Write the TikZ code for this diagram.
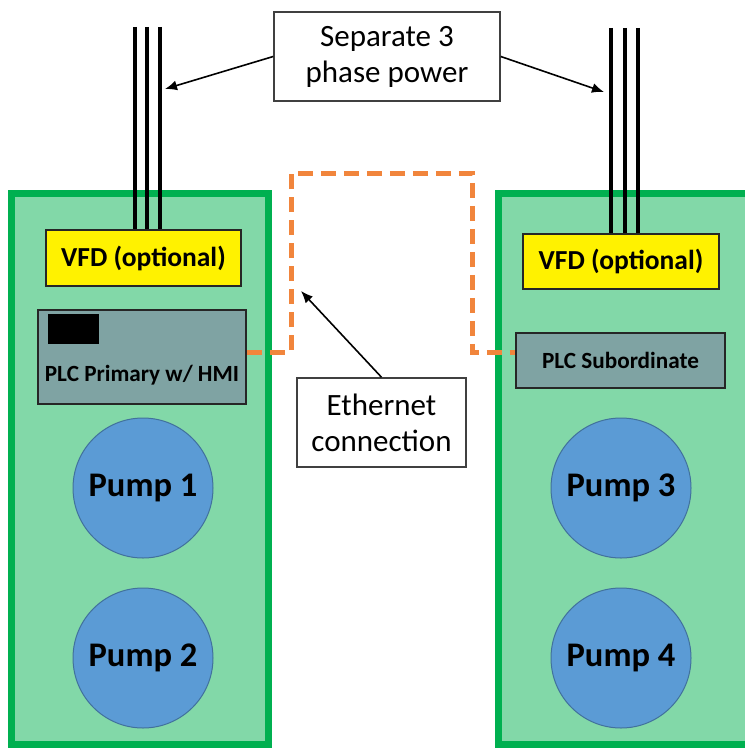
\documentclass[tikz,border=0pt]{standalone}
\usepackage{fontspec}
\setmainfont{Carlito}
\usetikzlibrary{arrows.meta}
\definecolor{boxgreen}{RGB}{0,176,80}
\definecolor{boxfill}{RGB}{130,216,168}
\definecolor{plcgray}{RGB}{127,163,163}
\definecolor{pumpblue}{RGB}{91,155,213}
\definecolor{pumpedge}{RGB}{65,113,156}
\definecolor{ethorange}{RGB}{241,133,60}
\begin{document}
\begin{tikzpicture}[x=1pt, y=-1pt,
    panel/.style={draw=boxgreen, fill=boxfill, line width=7pt},
    vfd/.style={draw=black!85, fill=yellow, line width=1.5pt, inner sep=0pt, font=\fontsize{27.5}{32}\selectfont\bfseries},
    plc/.style={draw=black!85, fill=plcgray, line width=1.8pt, inner sep=0pt},
    plctext/.style={font=\fontsize{23.2}{28}\selectfont\bfseries},
    pump/.style={circle, draw=pumpedge, fill=pumpblue, line width=1pt, minimum size=140pt, inner sep=0pt, font=\fontsize{34.5}{40}\selectfont\bfseries},
    callout/.style={draw=black!75, fill=white, line width=1.5pt, align=center, inner sep=0pt, font=\fontsize{31}{36}\selectfont},
    wire/.style={line width=4.5pt},
    pointer/.style={line width=1.6pt, -{Latex[length=12pt, width=10pt]}},
    ether/.style={draw=ethorange, line width=5pt, dash pattern=on 15pt off 8pt}]
    \useasboundingbox (0,0) rectangle (745,749);
    \draw[panel] (11.5,193.5) rectangle (268.5,744.5);
    \fill[boxfill] (498.5,193.5) rectangle (745,744.5);
    \draw[panel, fill=none] (745,193.5) -- (498.5,193.5) -- (498.5,744.5) -- (745,744.5);
    \node[vfd, minimum width=195pt, minimum height=56pt] (vfdL) at (143.5,258) {VFD (optional)};
    \node[vfd, minimum width=196pt, minimum height=55pt] (vfdR) at (621,261.5) {VFD (optional)};
    \node[plc, minimum width=208pt, minimum height=94pt] (plcP) at (142,357) {};
    \node[fill=black, minimum width=51pt, minimum height=30pt, inner sep=0pt, anchor=north west] (hmi) at (48,314) {};
    \node[plctext] (plcPtext) at ([yshift=-18pt]plcP.center) {PLC Primary w/ HMI};
    \node[plc, plctext, minimum width=209pt, minimum height=55pt] (plcS) at (620.5,360.5) {PLC Subordinate};
    \node[pump] (pump1) at (143,488) {Pump 1};
    \node[pump] (pump2) at (143,658) {Pump 2};
    \node[pump] (pump3) at (621,488) {Pump 3};
    \node[pump] (pump4) at (621,658) {Pump 4};
    \node[callout, minimum width=226pt, minimum height=89pt] (power) at (387,56.5) {Separate 3\\phase power};
    \node[callout, minimum width=169pt, minimum height=89pt] (ethernet) at (381.5,422.5) {Ethernet\\connection};
    \foreach \x [count=\i] in {135,147,160} {
      \coordinate (wl\i) at (\x,27);
      \draw[wire] (wl\i) -- (wl\i |- vfdL.north);
    }
    \foreach \x [count=\i] in {611,625,638} {
      \coordinate (wr\i) at (\x,28);
      \draw[wire] (wr\i) -- (wr\i |- vfdR.north);
    }
    \coordinate (pwrL) at (165,89);
    \coordinate (pwrR) at (604,92);
    \coordinate (ethTip) at (301,291);
    \draw[pointer] (power.west) -- (pwrL);
    \draw[pointer] (power.east) -- (pwrR);
    \draw[pointer] (ethernet.north) -- (ethTip);
    \coordinate (e1) at (291,352);
    \coordinate (e2) at (291,173);
    \coordinate (e3) at (472,173);
    \coordinate (e4) at (472,352);
    \draw[ether] (e1 -| plcP.east) -- (e1) -- (e2) -- (e3) -- (e4) -- (e4 -| plcS.west);
  \end{tikzpicture}
\end{document}
